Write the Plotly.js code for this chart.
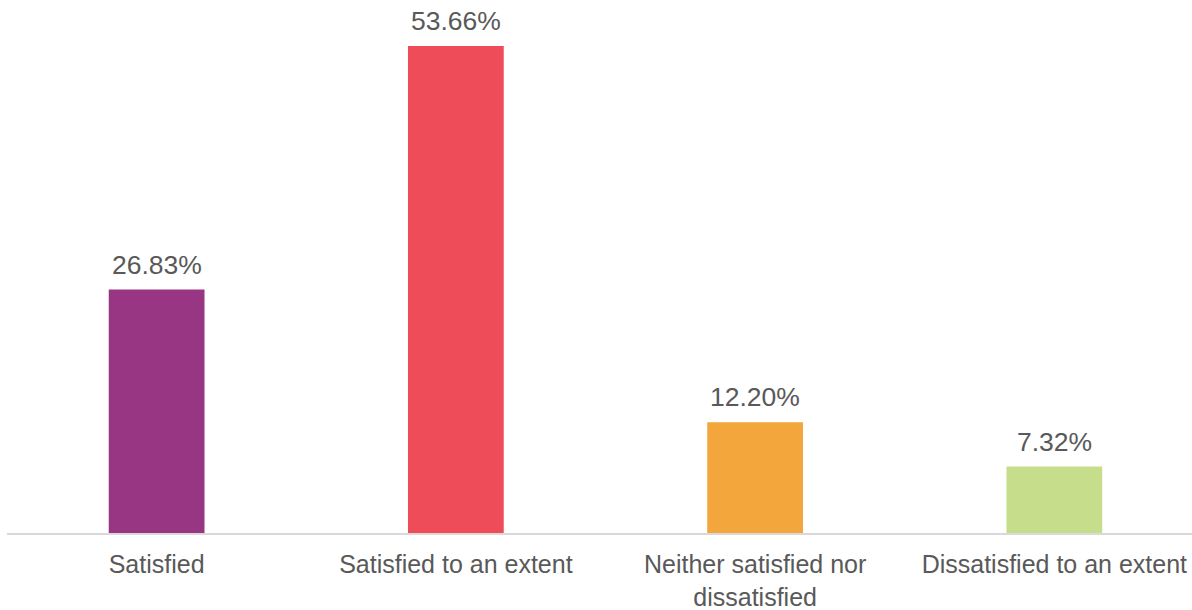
<!DOCTYPE html>
<html>
<head>
<meta charset="utf-8">
<script src="https://cdn.plot.ly/plotly-3.0.1.min.js"></script>
<style>html,body{margin:0;padding:0;background:#fff;}#chart{width:1192px;height:610px;}</style>
</head>
<body>
<div id="chart"></div>
<script>
const categories = ["Satisfied", "Satisfied to an extent", "Neither satisfied nor<br>dissatisfied", "Dissatisfied to an extent"];
const values = [26.83, 53.66, 12.20, 7.32];
const labels = ["26.83%", "53.66%", "12.20%", "7.32%"];
const colors = ["#993683", "#EF4C5A", "#F3A63B", "#C6DE8C"];

const FONT = "Liberation Sans, Arial, sans-serif";

const trace = {
  type: "bar",
  x: categories,
  y: values,
  marker: {color: colors},
  width: 0.32,
  hoverinfo: "none"
};

const annotations = categories.map((c, i) => ({
  x: c,
  y: values[i],
  xref: "x",
  yref: "y",
  text: labels[i],
  showarrow: false,
  yanchor: "bottom",
  yshift: 8,
  font: {family: FONT, size: 26.5, color: "#595959"}
}));

const layout = {
  width: 1192,
  height: 610,
  margin: {l: 7, r: 0, t: 0, b: 77},
  paper_bgcolor: "#ffffff",
  plot_bgcolor: "#ffffff",
  showlegend: false,
  font: {family: FONT, size: 25, color: "#595959"},
  annotations: annotations,
  xaxis: {
    type: "category",
    range: [-0.5, 3.46],
    showline: true,
    linecolor: "#d9d9d9",
    linewidth: 2,
    ticks: "",
    ticklabelstandoff: 8,
    showgrid: false,
    zeroline: false,
    tickfont: {family: FONT, size: 25, color: "#595959"}
  },
  yaxis: {
    range: [0, 58.73],
    visible: false,
    showgrid: false,
    zeroline: false
  }
};

Plotly.newPlot("chart", [trace], layout, {displayModeBar: false, staticPlot: true});
</script>
</body>
</html>
